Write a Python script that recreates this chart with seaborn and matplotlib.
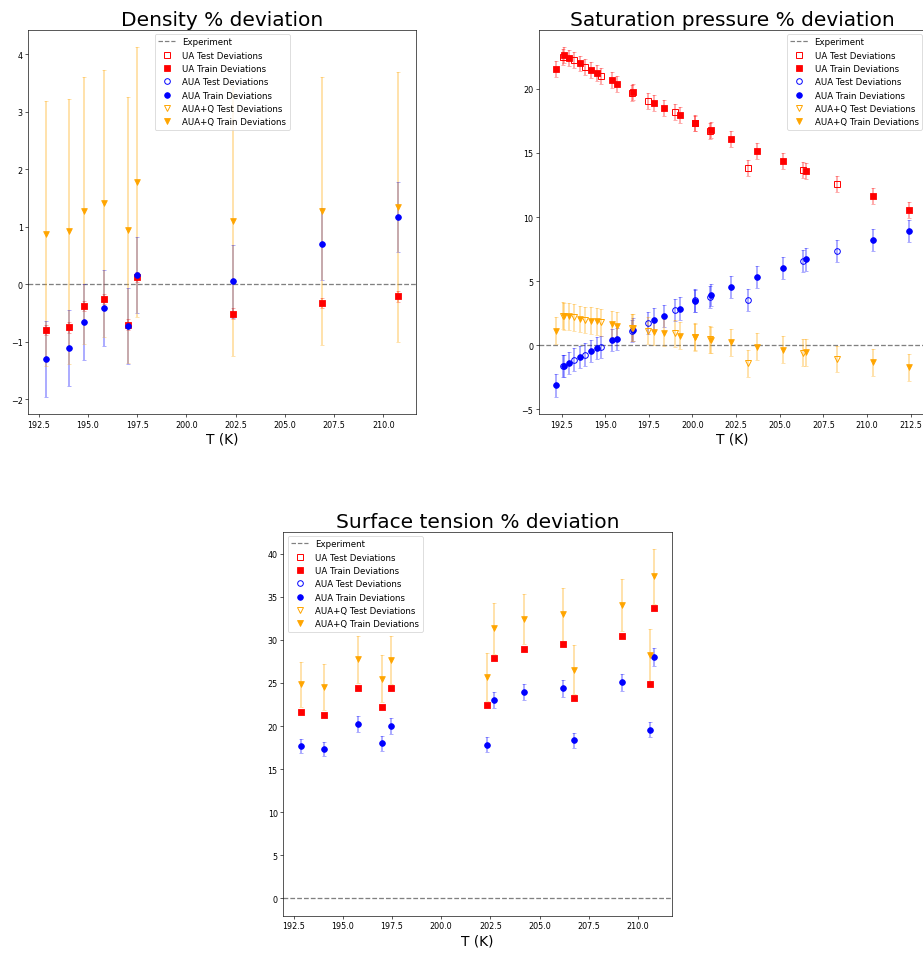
import matplotlib
matplotlib.use("Agg")
import matplotlib.pyplot as plt
from matplotlib.lines import Line2D
import seaborn as sns

# ---- density % deviation ----
dens_T_train = [192.87, 194.02, 194.81, 195.80, 197.03, 197.49, 202.37, 206.88, 210.76]
dens_T_test = []
dens_ua_train = [-0.79, -0.75, -0.38, -0.25, -0.70, 0.13, -0.51, -0.32, -0.21]
dens_aua_train = [-1.29, -1.11, -0.65, -0.41, -0.72, 0.16, 0.05, 0.70, 1.17]
dens_auaq_train = [0.88, 0.92, 1.28, 1.41, 0.94, 1.78, 1.10, 1.27, 1.34]
dens_ua_err = [0.09, 0.09, 0.09, 0.09, 0.09, 0.09, 0.09, 0.09, 0.09]
dens_aua_err = [0.66, 0.66, 0.66, 0.66, 0.66, 0.66, 0.64, 0.62, 0.61]
dens_auaq_err = [2.30, 2.30, 2.32, 2.32, 2.31, 2.34, 2.34, 2.33, 2.35]

# ---- saturation pressure % deviation ----
sat_T_train = [192.20, 192.65, 192.95, 193.57, 194.20, 194.55, 195.39, 195.65, 196.60, 197.81,
               198.35, 199.29, 200.17, 201.05, 202.20, 203.70, 205.16, 206.50, 210.32, 212.39]
sat_ua_train = [21.53, 22.63, 22.42, 21.98, 21.50, 21.25, 20.67, 20.36, 19.76, 18.93,
                18.51, 17.94, 17.37, 16.77, 16.12, 15.18, 14.40, 13.62, 11.61, 10.57]
sat_aua_train = [-3.13, -1.64, -1.38, -0.89, -0.45, -0.23, 0.41, 0.49, 1.22, 2.00,
                 2.26, 2.86, 3.46, 3.90, 4.53, 5.31, 6.04, 6.69, 8.20, 8.93]
sat_auaq_train = [1.14, 2.26, 2.26, 2.05, 1.92, 1.87, 1.66, 1.53, 1.35, 1.06,
                  0.96, 0.75, 0.62, 0.41, 0.23, -0.11, -0.34, -0.56, -1.33, -1.72]
sat_T_test = [192.60, 193.23, 193.82, 194.75, 196.55, 197.44, 198.98, 200.12, 200.99, 203.20, 206.33, 208.28]
sat_ua_test = [22.50, 22.24, 21.72, 20.99, 19.71, 19.06, 18.17, 17.30, 16.69, 13.80, 13.70, 12.55]
sat_aua_test = [-1.60, -1.12, -0.73, -0.11, 1.12, 1.72, 2.76, 3.50, 3.77, 3.54, 6.56, 7.34]
sat_auaq_test = [2.30, 2.18, 1.97, 1.79, 1.35, 1.14, 0.93, 0.65, 0.45, -1.41, -0.60, -1.07]
sat_ua_err = 0.62
sat_aua_err = 0.87
sat_auaq_err = 1.05

# ---- surface tension % deviation ----
st_T_train = [192.88, 194.04, 195.79, 197.02, 197.47, 202.35, 202.68, 204.19, 206.18, 206.76,
              209.19, 210.61, 210.82]
st_T_test = []
st_ua_train = [21.62, 21.31, 24.44, 22.20, 24.36, 22.43, 27.92, 28.92, 29.50, 23.28, 30.50, 24.86, 33.70]
st_aua_train = [17.68, 17.33, 20.23, 17.99, 20.00, 17.84, 23.05, 23.98, 24.36, 18.34, 25.06, 19.57, 28.03]
st_auaq_train = [24.86, 24.55, 27.76, 25.48, 27.68, 25.71, 31.35, 32.43, 32.97, 26.56, 34.06, 28.26, 37.37]
st_ua_err = [0.2] * 13
st_aua_err = [0.85, 0.85, 0.88, 0.85, 0.88, 0.85, 0.95, 0.95, 0.95, 0.90, 1.00, 0.90, 1.02]
st_auaq_err = [2.60, 2.70, 2.74, 2.74, 2.78, 2.79, 2.97, 2.93, 3.05, 2.86, 3.04, 3.05, 3.17]

models = [("UA", "red", "s"), ("AUA", "blue", "o"), ("AUA+Q", "orange", "v")]

DPI = 58
fig = plt.figure(figsize=(923 / DPI, 954 / DPI), dpi=DPI)


def legend_handles():
    handles = [Line2D([], [], color="gray", ls="--", lw=1.5, label="Experiment")]
    for name, color, marker in models:
        handles.append(Line2D([], [], ls="none", marker=marker, markersize=7,
                              color=color, markerfacecolor="none", markeredgecolor=color,
                              markeredgewidth=1.2, label=name + " Test Deviations"))
        handles.append(Line2D([], [], ls="none", marker=marker, markersize=7,
                              color=color, label=name + " Train Deviations"))
    return handles


def draw_panel(ax, T_train, T_test, train_vals, test_vals, errs, title, loc):
    ax.axhline(0, color="gray", ls="--", lw=1.6, zorder=1.5)
    for (name, color, marker), ytr, yte, err in zip(models, train_vals, test_vals, errs):
        ax.errorbar(T_train, ytr, yerr=err, fmt="none", ecolor=color, elinewidth=2,
                    capsize=2, alpha=0.4, zorder=2)
        if len(T_test):
            ax.errorbar(T_test, yte, yerr=err, fmt="none", ecolor=color, elinewidth=2,
                        capsize=2, alpha=0.4, zorder=2)
    for (name, color, marker), ytr, yte in zip(models, train_vals, test_vals):
        if len(T_test):
            # hollow markers for the test points
            ax.plot(T_test, yte, ls="none", marker=marker, markersize=7,
                    markerfacecolor="none", markeredgecolor=color,
                    markeredgewidth=1.2, zorder=3)
        sns.scatterplot(x=T_train, y=ytr, marker=marker, s=50, color=color,
                        edgecolor=color, linewidth=1, zorder=3, ax=ax, legend=False)
    ax.set_title(title, fontsize=25)
    ax.set_xlabel("T (K)", fontsize=17)
    ax.set_ylabel("")
    ax.tick_params(labelsize=10)
    ax.legend(handles=legend_handles(), loc=loc, fontsize=10.7)


ax1 = fig.add_axes([0.0307, 0.565, 0.420, 0.4028])
draw_panel(ax1, dens_T_train, dens_T_test,
           [dens_ua_train, dens_aua_train, dens_auaq_train], [[], [], []],
           [dens_ua_err, dens_aua_err, dens_auaq_err],
           "Density % deviation", "upper center")

ax2 = fig.add_axes([0.5836, 0.565, 0.420, 0.4028])
draw_panel(ax2, sat_T_train, sat_T_test,
           [sat_ua_train, sat_aua_train, sat_auaq_train],
           [sat_ua_test, sat_aua_test, sat_auaq_test],
           [sat_ua_err, sat_aua_err, sat_auaq_err],
           "Saturation pressure % deviation", "upper right")

ax3 = fig.add_axes([0.307, 0.0391, 0.4208, 0.4025])
draw_panel(ax3, st_T_train, st_T_test,
           [st_ua_train, st_aua_train, st_auaq_train], [[], [], []],
           [st_ua_err, st_aua_err, st_auaq_err],
           "Surface tension % deviation", "upper left")

fig.savefig("out.png", dpi=DPI)
